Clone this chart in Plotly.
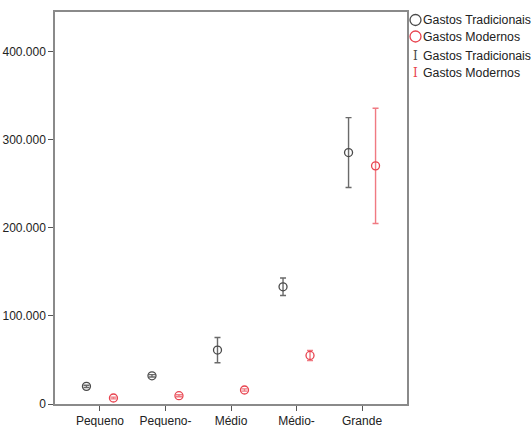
import plotly.graph_objects as go

# Company-size groups and the mean spending with 95% intervals
categorias = ["Pequeno", "Pequeno-", "Médio", "Médio-", "Grande"]

trad_media = [20000, 32000, 61200, 133000, 285300]
trad_inf = [18800, 30700, 46800, 123100, 245600]
trad_sup = [21200, 33300, 75500, 142900, 325000]

mod_media = [6800, 9400, 15900, 55100, 270200]
mod_inf = [5800, 8300, 14600, 49400, 204800]
mod_sup = [7800, 10500, 17200, 60800, 335600]

y_ticks = [0, 100000, 200000, 300000, 400000]

COR_TRAD = "#4a4a4a"
COR_MOD = "#e8434f"
COR_ERR_TRAD = "#6a6a6a"
COR_ERR_MOD = "#f07a82"
DESLOC = 0.206

idx = list(range(len(categorias)))
x_trad = [i - DESLOC for i in idx]
x_mod = [i + DESLOC for i in idx]

fig = go.Figure()

fig.add_trace(go.Scatter(
    x=x_trad, y=trad_media, mode="markers", name="Gastos Tradicionais",
    marker=dict(symbol="circle-open", size=8, color=COR_TRAD, line=dict(width=1.3)),
    error_y=dict(type="data", symmetric=False,
                 array=[s - m for s, m in zip(trad_sup, trad_media)],
                 arrayminus=[m - i for m, i in zip(trad_media, trad_inf)],
                 color=COR_ERR_TRAD, thickness=1.4, width=3),
    showlegend=False,
))
fig.add_trace(go.Scatter(
    x=x_mod, y=mod_media, mode="markers", name="Gastos Modernos",
    marker=dict(symbol="circle-open", size=8, color=COR_MOD, line=dict(width=1.3)),
    error_y=dict(type="data", symmetric=False,
                 array=[s - m for s, m in zip(mod_sup, mod_media)],
                 arrayminus=[m - i for m, i in zip(mod_media, mod_inf)],
                 color=COR_ERR_MOD, thickness=1.4, width=3),
    showlegend=False,
))

# Hand-built legend to the right of the frame
fonte = dict(family="Liberation Sans, Arial, sans-serif", size=12.3, color="#222222")
legenda = [
    ("circ", COR_TRAD, "Gastos Tradicionais", 0.0),
    ("circ", COR_MOD, "Gastos Modernos", 16.5),
    ("ibar", COR_TRAD, "Gastos Tradicionais", 36.0),
    ("ibar", COR_MOD, "Gastos Modernos", 52.5),
]
shapes = []
annotations = []
for tipo, cor, texto, dy in legenda:
    yc = 1.0 - (8.0 + dy) / 392.0
    if tipo == "circ":
        shapes.append(dict(type="circle", xref="paper", yref="paper",
                           xsizemode="pixel", ysizemode="pixel",
                           xanchor=1.0, yanchor=yc,
                           x0=3, x1=14, y0=-5.5, y1=5.5,
                           line=dict(color=cor, width=1.3)))
    else:
        annotations.append(dict(x=1.0, y=yc, xref="paper", yref="paper",
                                xanchor="left", yanchor="middle", xshift=4,
                                text="I", showarrow=False,
                                font=dict(family="DejaVu Serif, serif", size=12, color=cor)))
    annotations.append(dict(x=1.0, y=yc, xref="paper", yref="paper",
                            xanchor="left", yanchor="middle", xshift=14,
                            text=texto, showarrow=False, font=fonte))

eixo_fonte = dict(family="Liberation Sans, Arial, sans-serif", size=12, color="#222222")

fig.update_layout(
    width=531, height=427,
    margin=dict(l=55, r=124, t=12, b=23),
    paper_bgcolor="white", plot_bgcolor="white",
    separators=",.",
    font=fonte,
    shapes=shapes,
    annotations=annotations,
    xaxis=dict(
        range=[-0.686, 4.686], tickmode="array", tickvals=idx, ticktext=categorias,
        automargin=False,
        showgrid=False, zeroline=False, showline=True, linecolor="#8a8a8a", linewidth=1.5,
        mirror=True, ticks="outside", ticklen=5, tickcolor="#555555", tickwidth=1.3,
        tickfont=eixo_fonte,
    ),
    yaxis=dict(
        range=[0, 444800], tickmode="array", tickvals=y_ticks, tickformat=",.0f",
        automargin=False,
        showgrid=False, zeroline=False, showline=True, linecolor="#8a8a8a", linewidth=1.5,
        mirror=True, ticks="outside", ticklen=5, tickcolor="#555555", tickwidth=1.3,
        tickfont=eixo_fonte,
    ),
)

fig.write_html("out.html")
